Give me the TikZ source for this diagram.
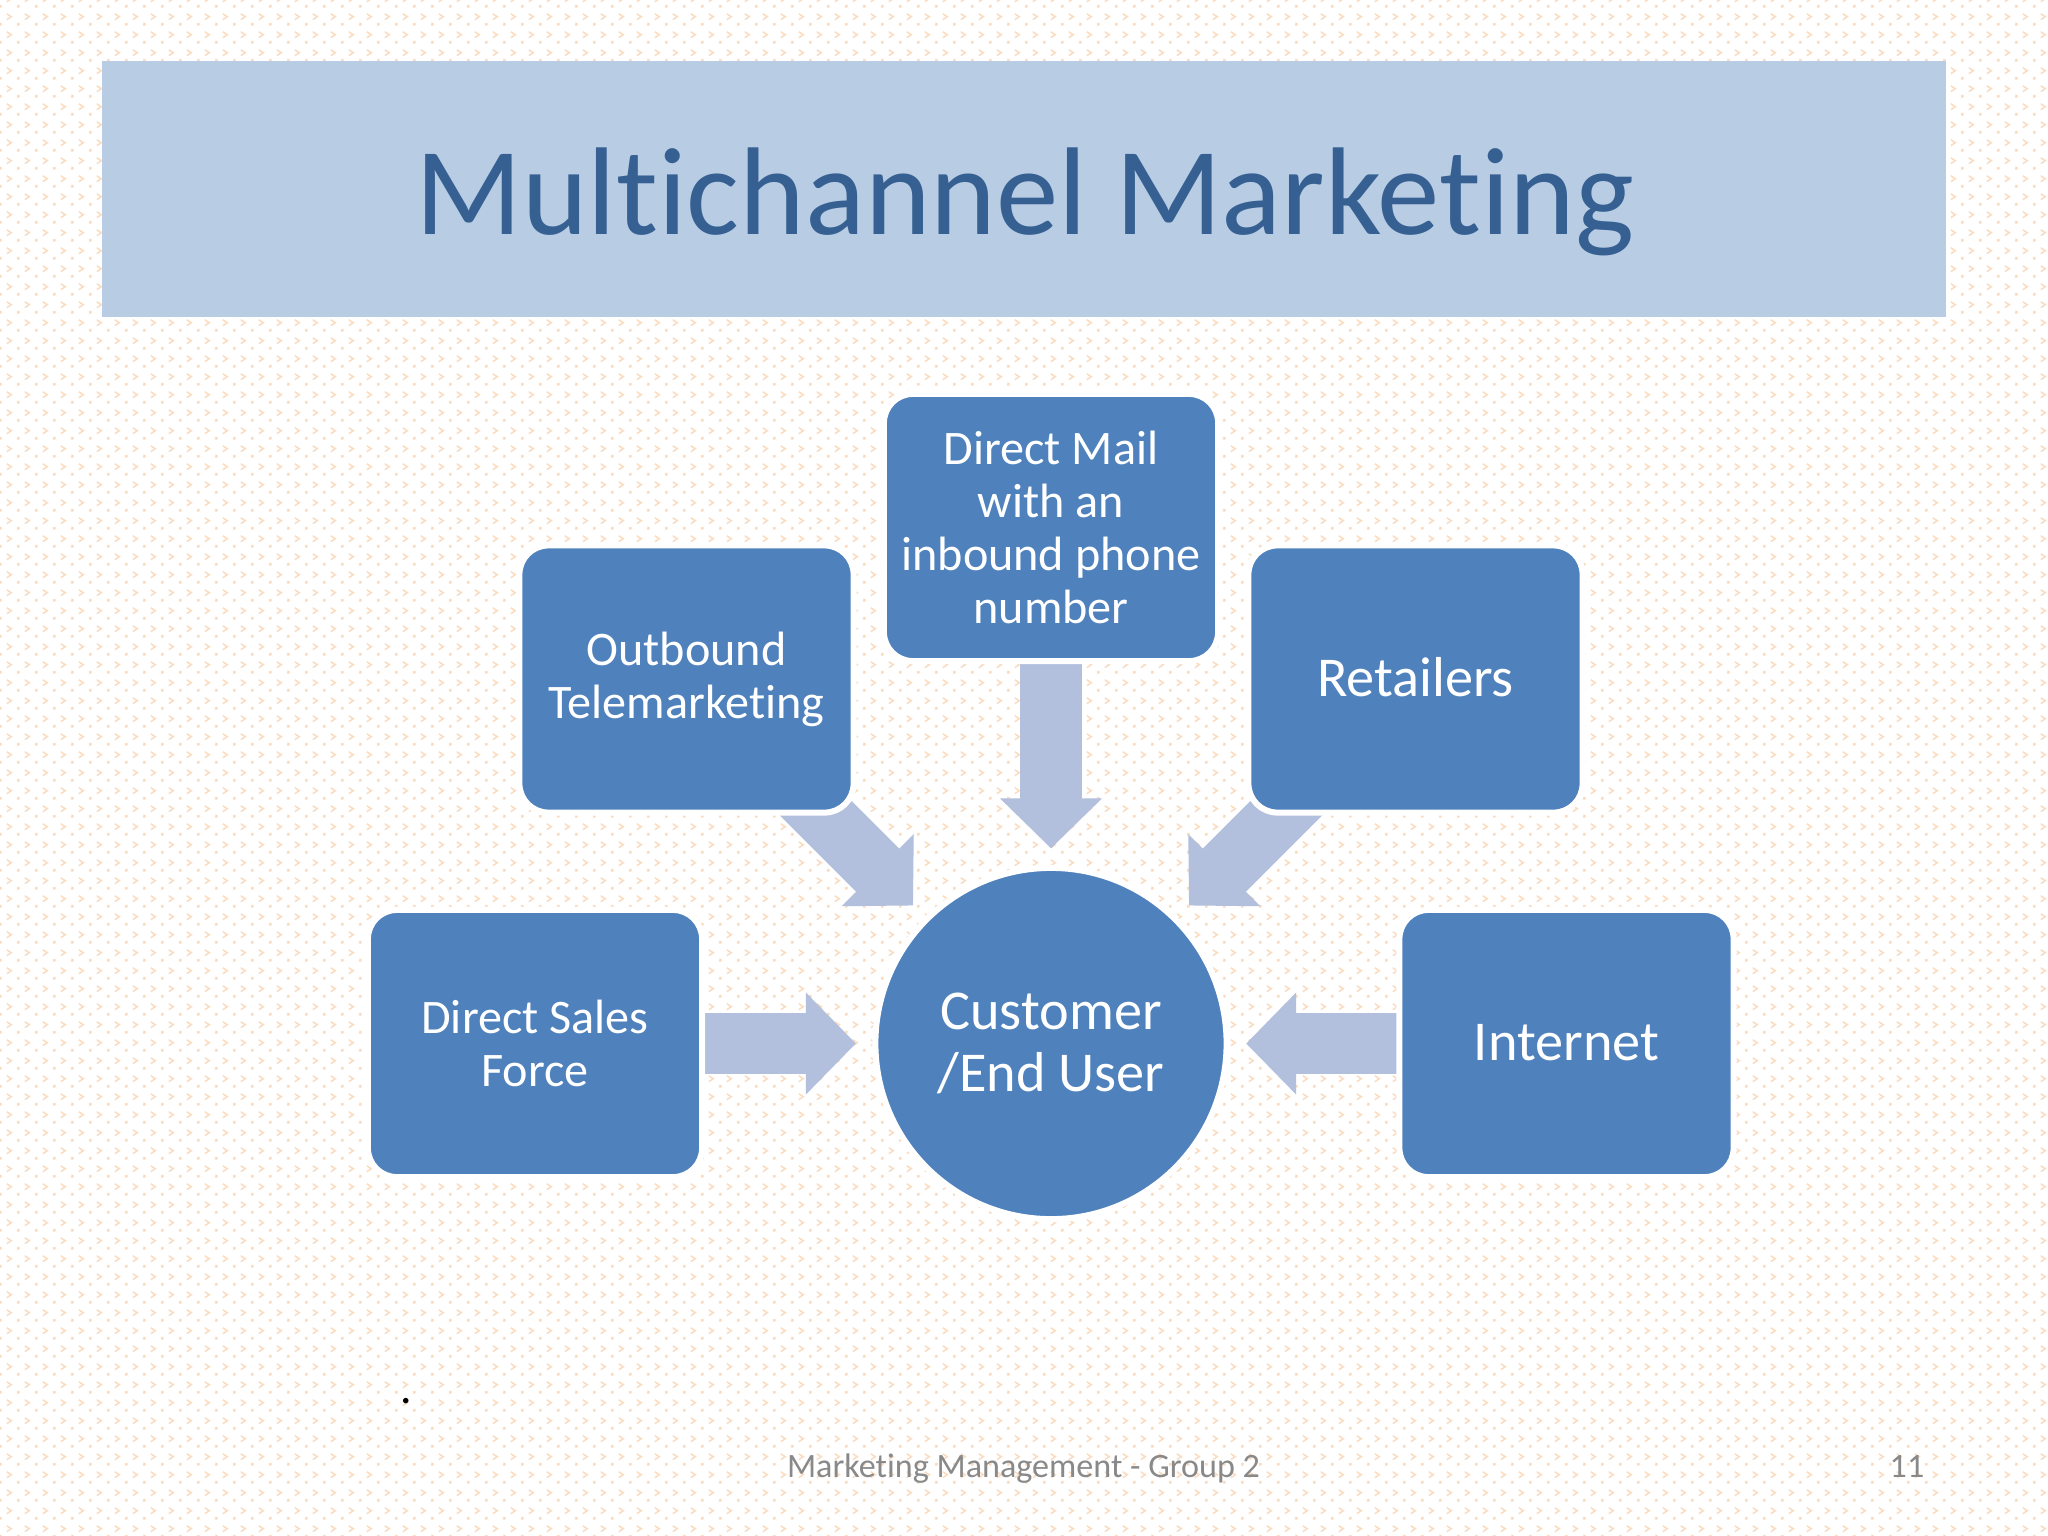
\documentclass[tikz,border=0pt]{standalone}
\usepackage{fontspec}
\setmainfont{Carlito}[Ligatures=NoCommon]
\usepackage{xcolor}
\usetikzlibrary{arrows.meta}
\usetikzlibrary{backgrounds}
\usetikzlibrary{patterns}

\definecolor{bandblue}{HTML}{B8CCE4}
\definecolor{titleblue}{HTML}{366092}
\definecolor{boxblue}{HTML}{4F81BD}
\definecolor{arrowblue}{HTML}{B2BFDD}
\definecolor{dotorange}{HTML}{FBDCC0}
\definecolor{footgrey}{HTML}{898989}

% paper texture, one tile
\pgfdeclarepatternformonly{paper}{\pgfqpoint{0mm}{0mm}}{\pgfqpoint{1.76mm}{1.75mm}}{\pgfqpoint{1.76mm}{1.75mm}}{
	\pgfsetlinewidth{.16mm}
	\pgfpathmoveto{\pgfqpoint{.7mm}{1.05mm}}
	\pgfpathlineto{\pgfqpoint{1.15mm}{.75mm}}
	\pgfpathlineto{\pgfqpoint{.7mm}{.45mm}}
	\pgfusepath{stroke}
	\pgfpathcircle{\pgfqpoint{.07mm}{.02mm}}{.12mm}
	\pgfpathcircle{\pgfqpoint{1.83mm}{.02mm}}{.12mm}
	\pgfpathcircle{\pgfqpoint{.07mm}{1.77mm}}{.12mm}
	\pgfpathcircle{\pgfqpoint{1.83mm}{1.77mm}}{.12mm}
	\pgfusepath{fill}
}

\begin{document}
\begin{tikzpicture}[x=0.01cm,y=-0.01cm]
		\tikzstyle{band}=[fill=bandblue, minimum width=18.42cm, minimum height=2.56cm, inner sep=0pt]
		\tikzstyle{channel}=[draw=white, line width=0.6mm, fill=boxblue, rounded corners=2.9mm, minimum width=3.34cm, minimum height=2.67cm, inner sep=0pt, text=white, align=center]
		\tikzstyle{hub}=[draw=white, line width=0.6mm, fill=boxblue, circle, minimum size=3.51cm, inner sep=0pt, text=white, align=center]
		\tikzstyle{feed}=[draw=arrowblue, line width=6.1mm, shorten <=1.2cm, shorten >=1.95cm, -{Triangle[length=5mm,width=9.9mm]}, arrowblue]
		\tikzstyle{small}=[font=\fontsize{13.7}{15.1}\selectfont]
		\tikzstyle{large}=[font=\fontsize{16}{17.6}\selectfont]
		\tikzstyle{foot}=[text=footgrey, font=\fontsize{9.7}{11}\selectfont, anchor=base, inner sep=0pt]

		\useasboundingbox (0,0) rectangle (2048,1536);

		\node[band] (band) at (1024,189) {};
		\node[text=titleblue, font=\fontsize{35.5}{40}\selectfont, anchor=base, inner sep=0pt] (title) at (1025,234) {Multichannel Marketing};

		\node[channel, small] (mail) at (1051,527.5) {Direct Mail\\with an\\inbound phone\\number};
		\node[channel, small] (outbound) at (686.5,679) {Outbound\\Telemarketing};
		\node[channel, large, text depth=.45mm] (retailers) at (1415.5,679) {Retailers};
		\node[channel, small] (sales) at (535,1043.5) {Direct Sales\\Force};
		\node[channel, large, text depth=.3mm] (internet) at (1566.5,1043.5) {Internet};
		\node[hub, large] (customer) at (1051,1043.5) {Customer\\/End User};

		\begin{pgfonlayer}{background}
			\fill[white] (0,0) rectangle (2048,1536);
			\fill[pattern=paper, pattern color=dotorange] (0,0) rectangle (2048,1536);
			\draw[feed] (mail.center) -- (customer.center);
			\draw[feed] (outbound.center) -- (customer.center);
			\draw[feed] (retailers.center) -- (customer.center);
			\draw[feed] (sales.center) -- (customer.center);
			\draw[feed] (internet.center) -- (customer.center);
		\end{pgfonlayer}

		\node[foot, text=black, font=\fontsize{13}{15}\selectfont] (dot) at (406,1403.5) {.};
		\node[foot] (footer) at (1023.5,1477) {Marketing Management - Group 2};
		\node[foot, anchor=base east] (page) at (1925,1477) {11};
\end{tikzpicture}
\end{document}
